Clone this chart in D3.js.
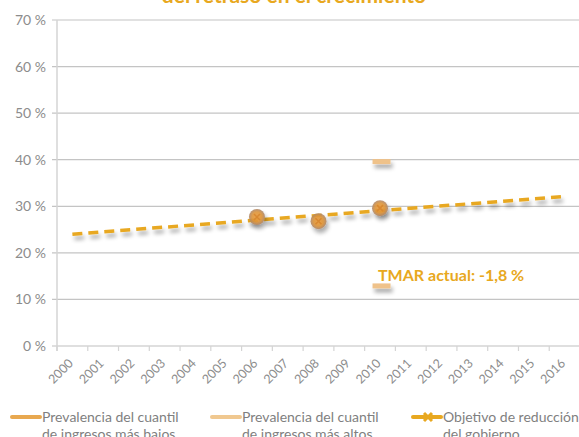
<!DOCTYPE html>
<html><head><meta charset="utf-8">
<script src="https://cdn.jsdelivr.net/npm/d3@7/dist/d3.min.js"></script>
<style>body{margin:0;background:#fff;}svg{display:block;font-family:Lato,"Open Sans",sans-serif;}</style>
</head><body>
<svg id="c" width="579" height="437"></svg>
<script>
const years = ["2000","2001","2002","2003","2004","2005","2006","2007","2008","2009","2010","2011","2012","2013","2014","2015","2016"];
const yTicks = [0,10,20,30,40,50,60,70];
const lowQuintile = [{year:"2010", value:39.6}];
const highQuintile = [{year:"2010", value:12.9}];
const national = [{year:"2006", value:27.7},{year:"2008", value:26.8},{year:"2010", value:29.6}];
const objective = [{year:"2000", value:24.0},{year:"2016", value:32.1}];
const legendLabels = [["Prevalencia del cuantil","de ingresos más bajos"],["Prevalencia del cuantil","de ingresos más altos"],["Objetivo de reducción","del gobierno"]];
const title = "del retraso en el crecimiento";
const note = "TMAR actual: -1,8 %";

const svg = d3.select("#c");
const defs = svg.append("defs");
const f = defs.append("filter").attr("id","sh").attr("x","-50%").attr("y","-50%").attr("width","200%").attr("height","200%");
f.append("feGaussianBlur").attr("in","SourceAlpha").attr("stdDeviation",2).attr("result","b");
f.append("feOffset").attr("in","b").attr("dx",2).attr("dy",4).attr("result","o");
f.append("feComponentTransfer").attr("in","o").attr("result","o2").append("feFuncA").attr("type","linear").attr("slope",0.35);
const m = f.append("feMerge"); m.append("feMergeNode").attr("in","o2"); m.append("feMergeNode").attr("in","SourceGraphic");
const rg = defs.append("radialGradient").attr("id","rg");
rg.append("stop").attr("offset","0%").attr("stop-color","#F0A040");
rg.append("stop").attr("offset","60%").attr("stop-color","#E0963A");
rg.append("stop").attr("offset","100%").attr("stop-color","#B08868");

const x = d3.scaleBand().domain(years).range([57,580]);
const y = d3.scaleLinear().domain([0,70]).range([346,20]);

// title (cut off at the top, as in the reference)
svg.append("text").attr("x",294).attr("y",3).attr("text-anchor","middle").attr("font-weight","bold")
  .attr("font-size",21).attr("fill","#E8A820").text(title);

// grid
svg.append("g").selectAll("line").data(yTicks.filter(d=>d>0)).join("line")
  .attr("x1",52).attr("x2",579).attr("y1",d=>y(d)).attr("y2",d=>y(d))
  .attr("stroke","#C4C4C4").attr("stroke-width",1.2);
svg.append("g").selectAll("text").data(yTicks).join("text")
  .attr("x",46).attr("y",d=>y(d)+5).attr("text-anchor","end").attr("font-size",14).attr("fill","#8C8C8C")
  .text(d=>d+" %");
// axes lines
svg.append("line").attr("x1",57).attr("x2",57).attr("y1",20).attr("y2",351).attr("stroke","#D4D4D4").attr("stroke-width",1.5);
svg.append("line").attr("x1",52).attr("x2",579).attr("y1",346).attr("y2",346).attr("stroke","#D4D4D4").attr("stroke-width",1.5);
const gx = svg.append("g").attr("transform","translate(0,346)");
gx.selectAll("line").data(years).join("line")
  .attr("x1",d=>x(d)).attr("x2",d=>x(d)).attr("y1",0).attr("y2",5).attr("stroke","#D4D4D4").attr("stroke-width",1.2);
gx.selectAll("text").data(years).join("text")
  .attr("transform",d=>`translate(${x(d)+x.bandwidth()/2+1.5},${18}) rotate(-45)`)
  .attr("text-anchor","end").attr("font-size",12.5).attr("fill","#8C8C8C").text(d=>d);

// objective dashed line
const line = d3.line().x(d=>x(d.year)+x.bandwidth()/2).y(d=>y(d.value));
svg.append("path").datum(objective).attr("d",line).attr("fill","none").attr("stroke","#E8A820")
  .attr("stroke-width",3.5).attr("stroke-dasharray","10,6").attr("filter","url(#sh)");

// national circles
const ng = svg.append("g").attr("filter","url(#sh)");
national.forEach(d=>{
  const cx = x(d.year)+x.bandwidth()/2, cy = y(d.value);
  ng.append("circle").attr("cx",cx).attr("cy",cy).attr("r",8).attr("fill","url(#rg)").attr("opacity",0.9);
  ng.append("path").attr("d",`M${cx-3},${cy-3}L${cx+3},${cy+3}M${cx-3},${cy+3}L${cx+3},${cy-3}`)
    .attr("stroke","#D88830").attr("stroke-width",1.5);
});

// quintile dashes
svg.append("g").attr("filter","url(#sh)").selectAll("rect").data(lowQuintile.concat(highQuintile)).join("rect")
  .attr("x",d=>x(d.year)+x.bandwidth()/2-7.5).attr("y",d=>y(d.value)-2.5).attr("width",18).attr("height",5)
  .attr("fill","#EFC28A");

// note
svg.append("text").attr("x",378).attr("y",281).attr("font-weight","bold").attr("font-size",16).attr("fill","#E8A820").text(note);

// legend
const lg = [{x:12,c:"#E8A850"},{x:212,c:"#F0C890"},{x:413,c:"#E8A820"}];
lg.forEach((l,i)=>{
  const g = svg.append("g");
  g.append("line").attr("x1",l.x).attr("x2",l.x+28).attr("y1",417).attr("y2",417).attr("stroke",l.c).attr("stroke-width",4).attr("stroke-linecap","round");
  if(i===2){
    const cx=l.x+15, cy=417;
    g.append("path").attr("d",`M${cx-4},${cy-4}L${cx+4},${cy+4}M${cx-4},${cy+4}L${cx+4},${cy-4}`).attr("stroke",l.c).attr("stroke-width",3);
  }
  g.append("text").attr("x",l.x+30).attr("y",422).attr("font-size",14).attr("fill","#7F7F7F").text(legendLabels[i][0]);
  g.append("text").attr("x",l.x+30).attr("y",439).attr("font-size",14).attr("fill","#7F7F7F").text(legendLabels[i][1]);
});
</script>
</body></html>
